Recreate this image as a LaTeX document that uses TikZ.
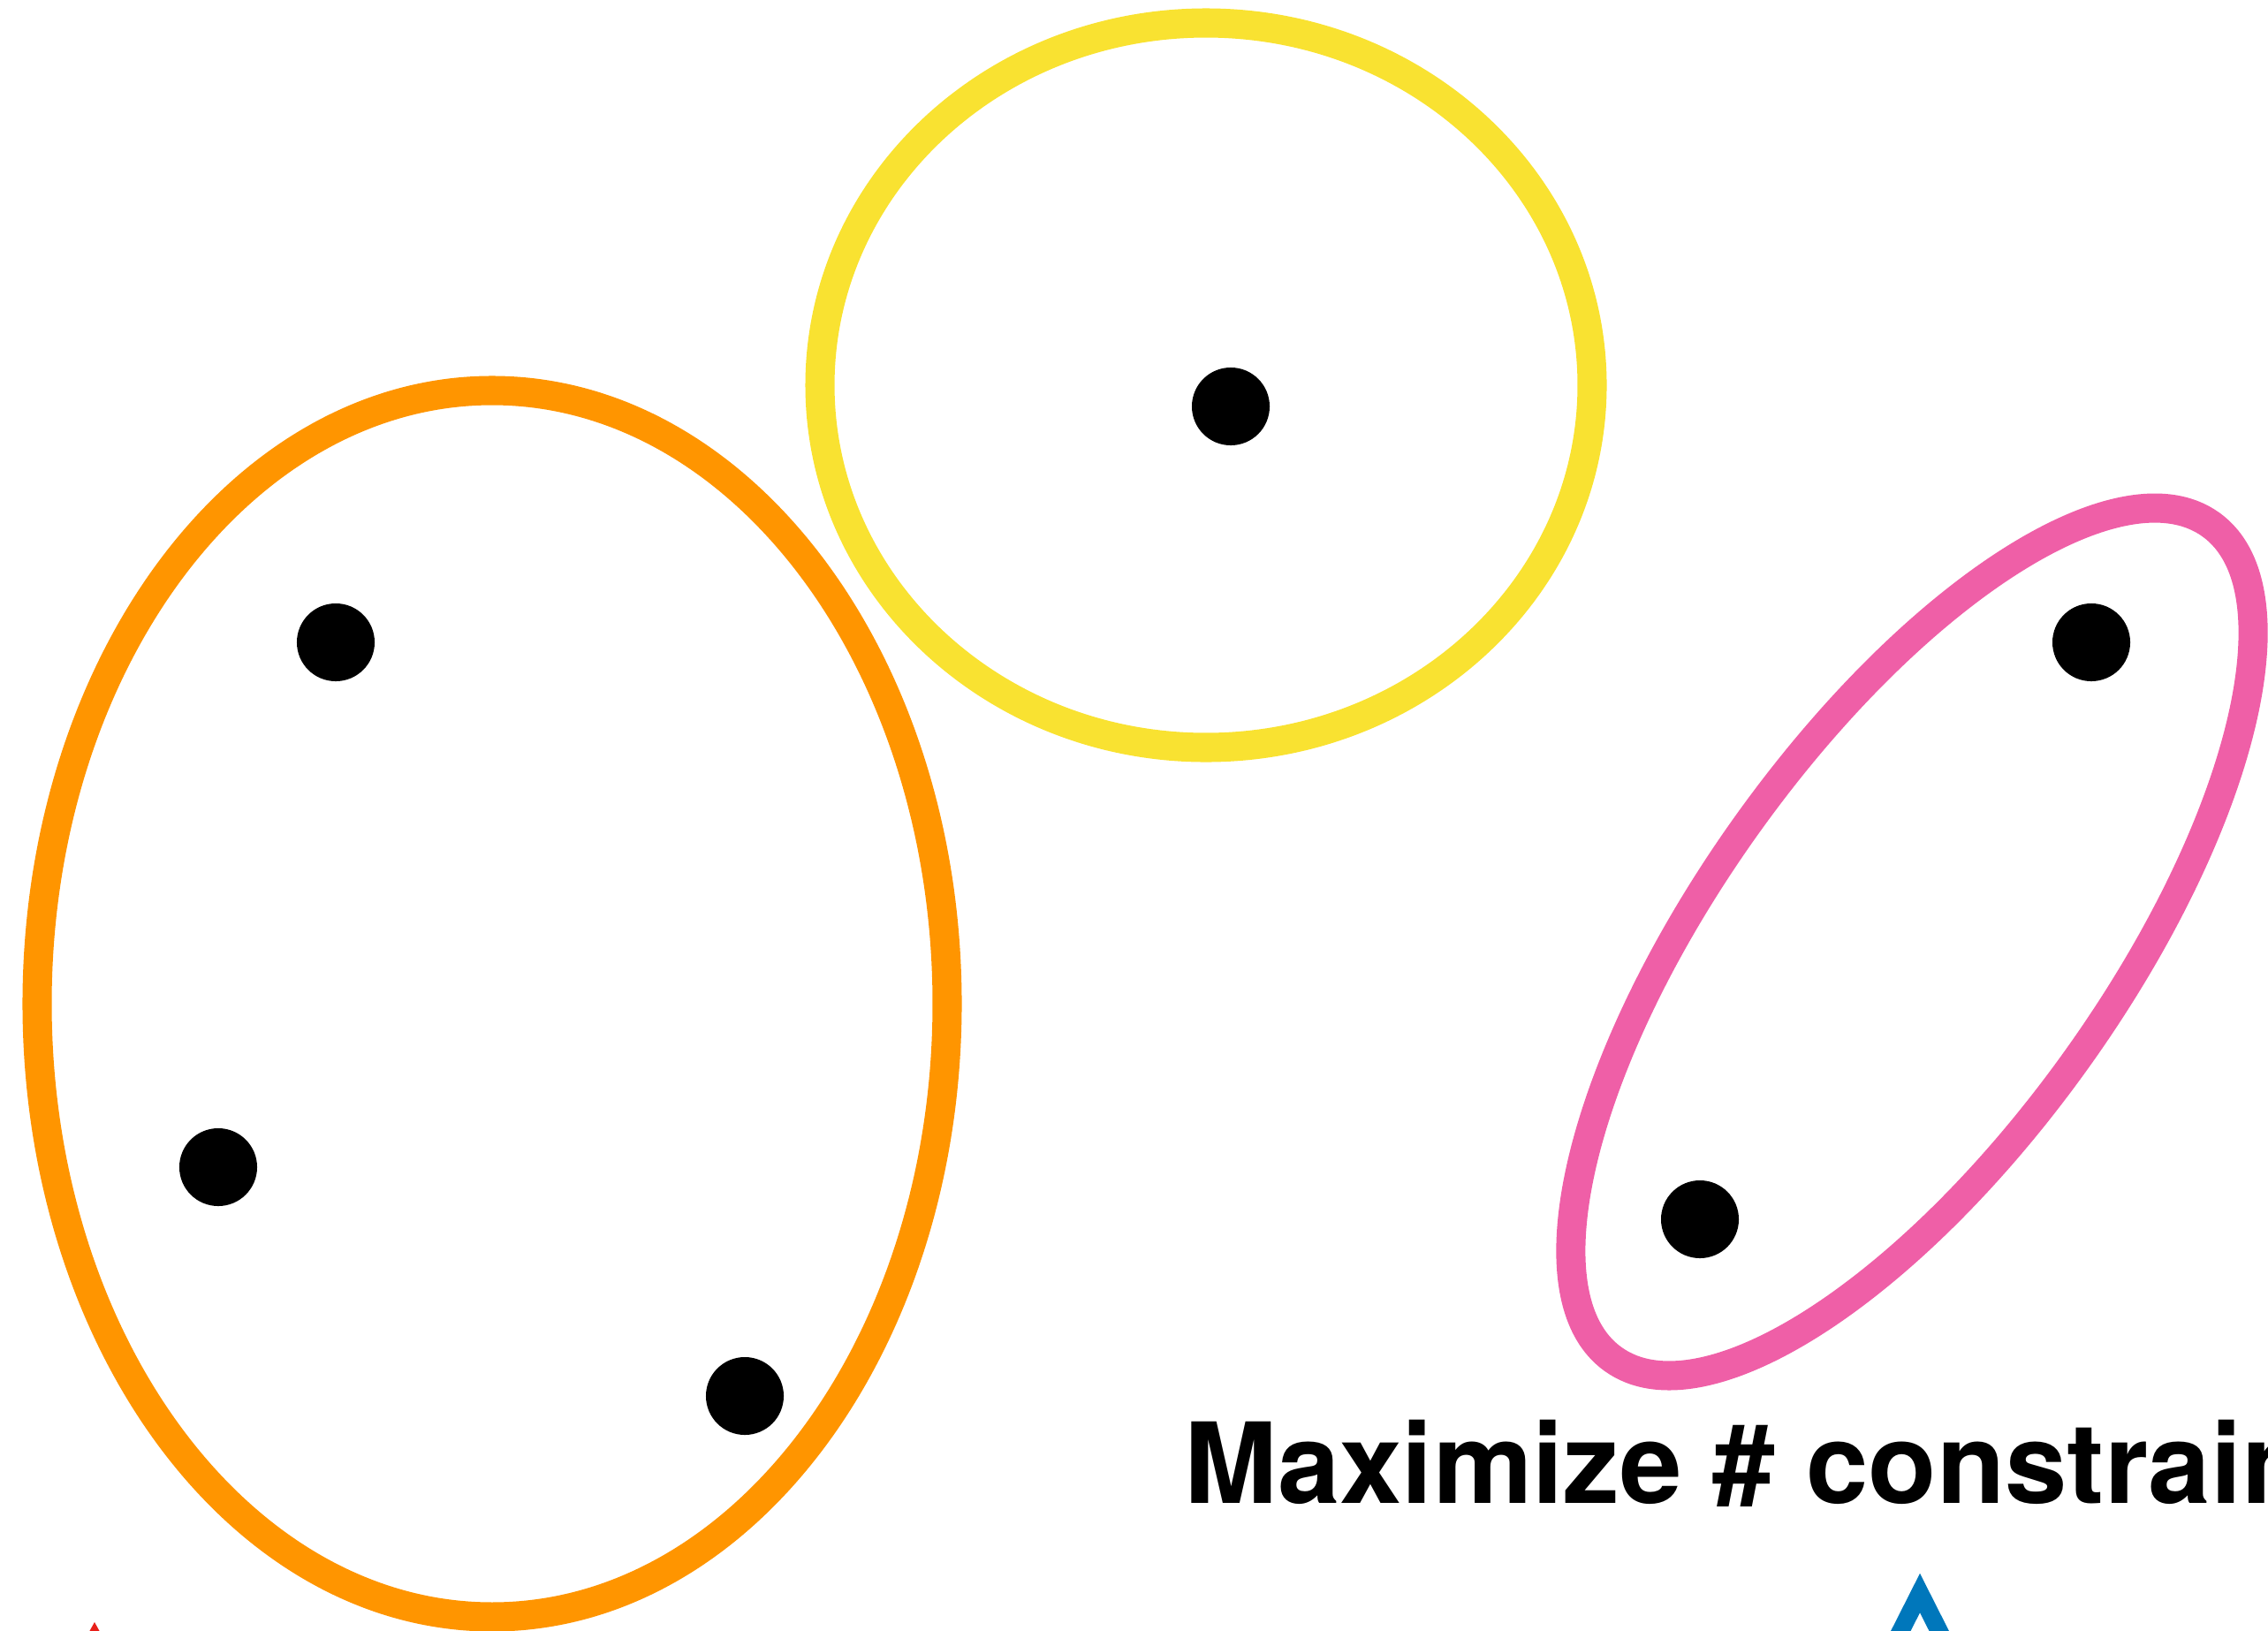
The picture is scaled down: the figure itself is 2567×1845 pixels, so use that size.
\documentclass[tikz,border=0pt]{standalone}
\usepackage{fontspec}
\setmainfont{TeX Gyre Heros}
\usepackage{xcolor}
\usetikzlibrary{positioning}
\definecolor{grporange}{HTML}{FF9500}
\definecolor{grpyellow}{HTML}{F9E231}
\definecolor{grppink}{HTML}{EF5FA7}
\definecolor{tipred}{HTML}{E8201A}
\definecolor{tipblue}{HTML}{0077BB}
\tikzset{
  % A cluster outline
  grp/.style={draw=#1, line width=9.4pt},
  % A data point
  pt/.style={circle, fill=black, inner sep=0pt, minimum size=0.88cm},
  % The objective caption
  caption/.style={font=\fontsize{36}{40}\selectfont\bfseries, inner sep=0pt, anchor=base west},
}

\begin{document}
\begin{tikzpicture}[x=0.01cm, y=0.01cm]

\clip (0,0) rectangle (2567,-1845);

% clusters
\draw[grp=grporange] (557,-1136) ellipse [x radius=515, y radius=694];
\draw[grp=grpyellow] (1365,-436) ellipse [x radius=437, y radius=410];
\draw[grp=grppink, shift={(2164,-1066)}, rotate=54.4] (0,0) ellipse [x radius=581, y radius=229];

% points
\node[pt] (p1) at (380,-727) {};
\node[pt] (p2) at (247,-1321) {};
\node[pt] (p3) at (843,-1580) {};
\node[pt] (p4) at (1393,-460) {};
\node[pt] (p5) at (2367,-727) {};
\node[pt] (p6) at (1924,-1380) {};

\node[caption] (goal) at (1340,-1701) {Maximize \# constraints};

% tips of the marks below
\fill[tipred] (107,-1836) -- (140,-1895) -- (74,-1895) -- cycle;
\draw[tipblue, line width=5.7pt, miter limit=10] (2124,-1900) -- (2173,-1803) -- (2222,-1900);

\end{tikzpicture}
\end{document}
